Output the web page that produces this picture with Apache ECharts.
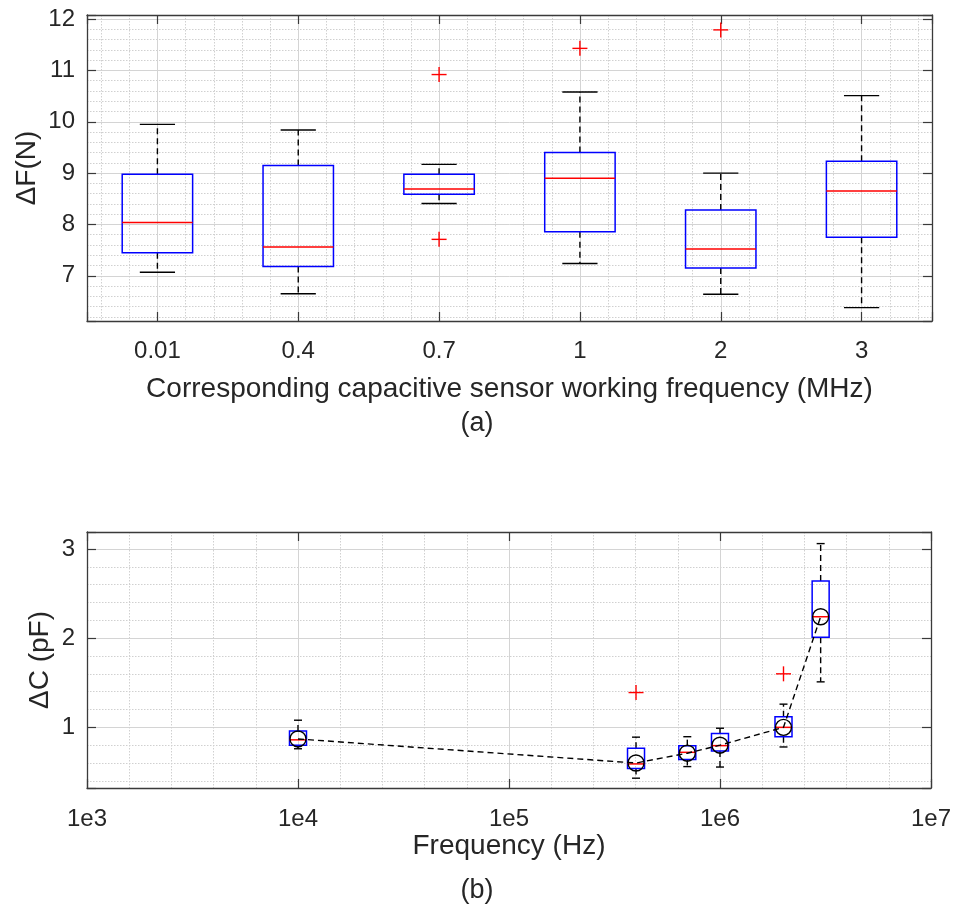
<!DOCTYPE html>
<html>
<head>
<meta charset="utf-8">
<script src="https://cdn.jsdelivr.net/npm/echarts@6/dist/echarts.min.js"></script>
<style>
html,body{margin:0;padding:0;background:#fff;}
#main{width:954px;height:907px;}
</style>
</head>
<body>
<div id="main"></div>
<script>
// ---- Panel (a): ΔF vs working frequency ----
const cats = ['0.01', '0.4', '0.7', '1', '2', '3'];
const fLow  = [7.07, 6.65, 8.41, 7.24, 6.64, 6.38];
const fQ1   = [7.45, 7.18, 8.59, 7.86, 7.15, 7.75];
const fMed  = [8.04, 7.56, 8.69, 8.90, 7.52, 8.65];
const fQ3   = [8.98, 9.15, 8.98, 9.40, 8.28, 9.23];
const fHigh = [9.95, 9.84, 9.17, 10.58, 9.00, 10.51];
const fOutCat = ['0.7', '0.7', '1', '2'];
const fOutVal = [10.92, 7.71, 11.43, 11.79];
const fYTicks = [7, 8, 9, 10, 11, 12];

// ---- Panel (b): ΔC vs frequency ----
const freqHz = [1e4, 4e5, 7e5, 1e6, 2e6, 3e6];
const cLow  = [0.76, 0.43, 0.56, 0.555, 0.78, 1.51];
const cQ1   = [0.80, 0.54, 0.64, 0.735, 0.895, 2.01];
const cMed  = [0.86, 0.59, 0.72, 0.795, 1.00, 2.24];
const cQ3   = [0.96, 0.765, 0.795, 0.93, 1.12, 2.64];
const cHigh = [1.08, 0.89, 0.895, 0.99, 1.26, 3.06];
const cMean = [0.87, 0.60, 0.71, 0.80, 1.00, 2.24];
const cOutFreq = [4e5, 2e6];
const cOutVal  = [1.39, 1.60];
const cXTickLabels = ['1e3', '1e4', '1e5', '1e6', '1e7'];

const FONT = 'Liberation Sans, Arial, sans-serif';
const TXT = '#262626';
const AX = '#3a3a3a';
const MAJ = '#d4d4d4';
const MIN = '#d0d0d0';

const topBox = cats.map((c, i) => [i + 1, fLow[i], fQ1[i], fMed[i], fQ3[i], fHigh[i]]);
const topOut = fOutCat.map((c, i) => [cats.indexOf(c) + 1, fOutVal[i]]);
const botBox = freqHz.map((f, i) => [f, cLow[i], cQ1[i], cMed[i], cQ3[i], cHigh[i]]);
const botMean = freqHz.map((f, i) => [f, cMean[i]]);
const botOut = cOutFreq.map((f, i) => [f, cOutVal[i]]);

function boxItem(api, halfBox, halfCap) {
  const x = api.value(0);
  const pLow = api.coord([x, api.value(1)]);
  const pQ1 = api.coord([x, api.value(2)]);
  const pMed = api.coord([x, api.value(3)]);
  const pQ3 = api.coord([x, api.value(4)]);
  const pHigh = api.coord([x, api.value(5)]);
  const cx = pMed[0];
  const dash = {stroke: '#000', lineWidth: 1.4, lineDash: [6, 4]};
  const solid = {stroke: '#000', lineWidth: 1.4};
  return {
    type: 'group',
    children: [
      {type: 'line', shape: {x1: cx, y1: pQ3[1], x2: cx, y2: pHigh[1]}, style: dash},
      {type: 'line', shape: {x1: cx, y1: pQ1[1], x2: cx, y2: pLow[1]}, style: dash},
      {type: 'line', shape: {x1: cx - halfCap, y1: pHigh[1], x2: cx + halfCap, y2: pHigh[1]}, style: solid},
      {type: 'line', shape: {x1: cx - halfCap, y1: pLow[1], x2: cx + halfCap, y2: pLow[1]}, style: solid},
      {type: 'rect', shape: {x: cx - halfBox, y: pQ3[1], width: 2 * halfBox, height: pQ1[1] - pQ3[1]},
        style: {fill: 'none', stroke: '#0000ff', lineWidth: 1.5}},
      {type: 'line', shape: {x1: cx - halfBox, y1: pMed[1], x2: cx + halfBox, y2: pMed[1]},
        style: {stroke: '#ff0000', lineWidth: 1.5}}
    ]
  };
}
function plusItem(api) {
  const p = api.coord([api.value(0), api.value(1)]);
  const s = 7.5;
  const st = {stroke: '#ff0000', lineWidth: 1.4};
  return {type: 'group', children: [
    {type: 'line', shape: {x1: p[0] - s, y1: p[1], x2: p[0] + s, y2: p[1]}, style: st},
    {type: 'line', shape: {x1: p[0], y1: p[1] - s, x2: p[0], y2: p[1] + s}, style: st}
  ]};
}

const isInt = v => Math.abs(v - Math.round(v)) < 1e-6;
const tickStyle = {show: true, inside: true, length: 9, lineStyle: {color: AX, width: 1.2}};
const lineStyleAx = {show: true, lineStyle: {color: AX, width: 1.3}};
const labelFont = {color: TXT, fontFamily: FONT, fontSize: 24};
const nameFont = {color: TXT, fontFamily: FONT, fontSize: 28};
const splitMaj = {show: true, lineStyle: {color: MAJ, width: 1, type: 'solid'}};
const splitMin = {show: true, lineStyle: {color: MIN, width: 1, type: [1.5, 1.5]}};

const chart = echarts.init(document.getElementById('main'), null, {renderer: 'canvas'});
chart.setOption({
  animation: false,
  backgroundColor: '#fff',
  title: [
    {text: '(a)', left: 'center', top: 405, textStyle: {color: TXT, fontFamily: FONT, fontSize: 27, fontWeight: 'normal'}},
    {text: '(b)', left: 'center', top: 872, textStyle: {color: TXT, fontFamily: FONT, fontSize: 27, fontWeight: 'normal'}}
  ],
  grid: [
    {left: 87, right: 22, top: 15, height: 306},
    {left: 87, right: 22, top: 532, height: 256}
  ],
  xAxis: [
    {gridIndex: 0, type: 'value', position: 'bottom', min: 0.5, max: 6.5, splitNumber: 6,
      axisLine: lineStyleAx, axisTick: tickStyle,
      axisLabel: Object.assign({margin: 18, formatter: v => (isInt(v) && v >= 1 && v <= cats.length) ? cats[Math.round(v) - 1] : ''}, labelFont),
      splitLine: splitMaj, minorTick: {show: false, splitNumber: 5}, minorSplitLine: splitMin,
      name: 'Corresponding capacitive sensor working frequency (MHz)', nameLocation: 'middle', nameGap: 54, nameTextStyle: nameFont},
    {gridIndex: 0, type: 'value', position: 'top', min: 0.5, max: 6.5, splitNumber: 6,
      axisLine: lineStyleAx, axisTick: tickStyle, axisLabel: {show: false}, splitLine: {show: false}},
    {gridIndex: 1, type: 'log', logBase: 10, position: 'bottom', min: 1e3, max: 1e7,
      axisLine: lineStyleAx, axisTick: tickStyle,
      axisLabel: Object.assign({margin: 19, formatter: v => {
        const e = Math.round(Math.log10(v));
        return cXTickLabels.find(t => t === '1e' + e) || '';
      }}, labelFont),
      splitLine: {show: false},
      name: 'Frequency (Hz)', nameLocation: 'middle', nameGap: 40, nameTextStyle: nameFont},
    {gridIndex: 1, type: 'value', position: 'top', min: 3, max: 7, splitNumber: 4,
      axisLine: lineStyleAx, axisTick: tickStyle, axisLabel: {show: false},
      splitLine: splitMaj, minorTick: {show: false, splitNumber: 5}, minorSplitLine: splitMin}
  ],
  yAxis: [
    {gridIndex: 0, type: 'value', position: 'left', min: 6.12, max: 12.08, splitNumber: 5,
      axisLine: lineStyleAx, axisTick: tickStyle,
      axisLabel: Object.assign({margin: 12, formatter: v => fYTicks.includes(Math.round(v)) && isInt(v) ? String(Math.round(v)) : ''}, labelFont),
      splitLine: splitMaj, minorTick: {show: false, splitNumber: 5}, minorSplitLine: splitMin,
      name: 'ΔF(N)', nameLocation: 'middle', nameGap: 46, nameMoveOverlap: false, nameTextStyle: nameFont},
    {gridIndex: 0, type: 'value', position: 'right', min: 6.12, max: 12.08, splitNumber: 5,
      axisLine: lineStyleAx, axisTick: tickStyle, axisLabel: {show: false}, splitLine: {show: false}},
    {gridIndex: 1, type: 'value', position: 'left', min: 0.32, max: 3.19, splitNumber: 3,
      axisLine: lineStyleAx, axisTick: tickStyle,
      axisLabel: Object.assign({margin: 12, formatter: v => isInt(v) ? String(Math.round(v)) : ''}, labelFont),
      splitLine: splitMaj, minorTick: {show: false, splitNumber: 5}, minorSplitLine: splitMin,
      name: 'ΔC (pF)', nameLocation: 'middle', nameGap: 33, nameMoveOverlap: false, nameTextStyle: nameFont},
    {gridIndex: 1, type: 'value', position: 'right', min: 0.32, max: 3.19, splitNumber: 3,
      axisLine: lineStyleAx, axisTick: tickStyle, axisLabel: {show: false}, splitLine: {show: false}}
  ],
  series: [
    {type: 'custom', xAxisIndex: 0, yAxisIndex: 0, z: 3, data: topBox,
      renderItem: (params, api) => boxItem(api, api.size([0.25, 0])[0], api.size([0.125, 0])[0])},
    {type: 'custom', xAxisIndex: 0, yAxisIndex: 0, z: 4, data: topOut, renderItem: (p, api) => plusItem(api)},
    {type: 'custom', xAxisIndex: 2, yAxisIndex: 2, z: 3, data: botBox,
      renderItem: (params, api) => boxItem(api, 8.5, 4)},
    {type: 'line', xAxisIndex: 2, yAxisIndex: 2, z: 5, data: botMean,
      symbol: 'circle', symbolSize: 16,
      itemStyle: {color: 'rgba(0,0,0,0)', borderColor: '#000', borderWidth: 1.4},
      lineStyle: {color: '#000', width: 1.4, type: [6, 4]}},
    {type: 'custom', xAxisIndex: 2, yAxisIndex: 2, z: 4, data: botOut, renderItem: (p, api) => plusItem(api)}
  ]
});
</script>
</body>
</html>
